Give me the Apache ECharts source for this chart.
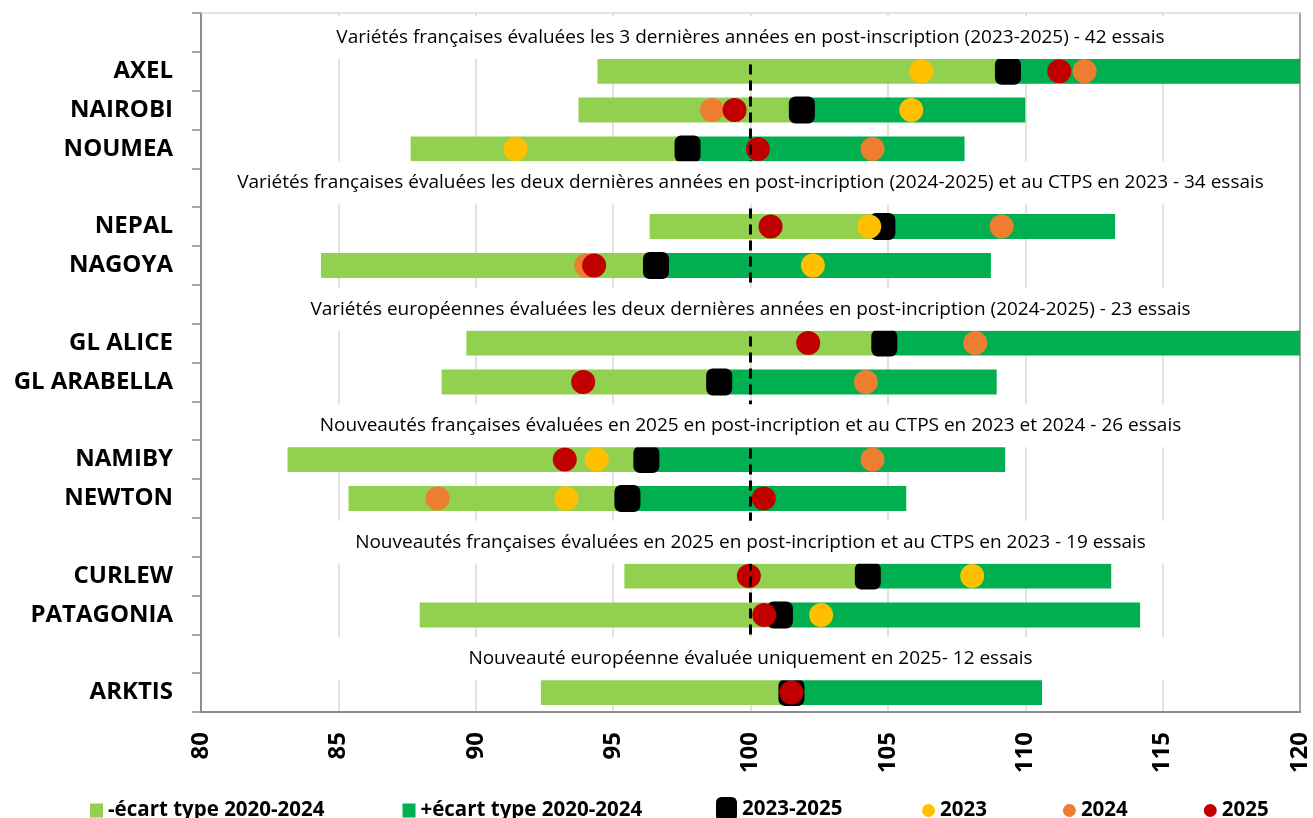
<!DOCTYPE html>
<html>
<head>
<meta charset="utf-8">
<title>Variétés - écart type</title>
<script src="https://cdn.jsdelivr.net/npm/echarts@6/dist/echarts.min.js"></script>
<style>
  html, body { margin: 0; padding: 0; background: #fff; }
  #chart { width: 1313px; height: 818px; }
</style>
</head>
<body>
<div id="chart"></div>
<script>
// headings of each group of varieties (drawn as text rows inside the chart)
var headings = [
  "Variétés françaises évaluées les 3 dernières années en post-inscription (2023-2025) - 42 essais",
  "Variétés françaises évaluées les deux dernières années en post-incription (2024-2025) et au CTPS en 2023 - 34 essais",
  "Variétés européennes évaluées les deux dernières années en post-incription (2024-2025) - 23 essais",
  "Nouveautés françaises évaluées en 2025 en post-incription et au CTPS en 2023 et 2024 - 26 essais",
  "Nouveautés françaises évaluées en 2025 en post-incription et au CTPS en 2023 - 19 essais",
  "Nouveauté européenne évaluée uniquement en 2025- 12 essais"
];
var groups = [
  ["AXEL", "NAIROBI", "NOUMEA"],
  ["NEPAL", "NAGOYA"],
  ["GL ALICE", "GL ARABELLA"],
  ["NAMIBY", "NEWTON"],
  ["CURLEW", "PATAGONIA"],
  ["ARKTIS"]
];

var varieties = ["AXEL", "NAIROBI", "NOUMEA", "NEPAL", "NAGOYA", "GL ALICE", "GL ARABELLA",
  "NAMIBY", "NEWTON", "CURLEW", "PATAGONIA", "ARKTIS"];
var moy2023_2025 = [109.37, 101.87, 97.71, 104.80, 96.56, 104.87, 98.86, 96.21, 95.52, 104.27, 101.07, 101.49];
var ecartType = [14.94, 8.13, 10.08, 8.47, 12.19, 15.21, 10.10, 13.06, 10.15, 8.86, 13.11, 9.12];
var val2023 = [106.22, 105.85, 91.45, 104.32, 102.27, null, null, 94.40, 93.30, 108.07, 102.57, null];
var val2024 = [112.16, 98.60, 104.44, 109.14, 94.02, 108.18, 104.20, 104.44, 88.61, null, null, null];
var val2025 = [111.24, 99.42, 100.27, 100.73, 94.31, 102.10, 93.91, 93.24, 100.48, 99.94, 100.50, 101.49];

var axisMin = 80;
var axisMax = 120;
var axisStep = 5;
var refValue = 100;

var FONT = "'Open Sans', 'DejaVu Sans', sans-serif";

var categories = [];
headings.forEach(function (h, i) {
  categories.push(h);
  groups[i].forEach(function (v) { categories.push(v); });
});

function perRow(fn) {
  return categories.map(function (c) {
    var i = varieties.indexOf(c);
    return i < 0 ? "-" : fn(i);
  });
}

function points(arr) {
  var out = [];
  varieties.forEach(function (v, i) {
    if (arr[i] != null) out.push([arr[i], v]);
  });
  return out;
}

var baseData = perRow(function (i) { return moy2023_2025[i] - ecartType[i]; });
var minusData = perRow(function (i) { return ecartType[i]; });
var plusData = perRow(function (i) { return ecartType[i]; });

var lastHeadingRow = categories.indexOf(headings[headings.length - 1]);

var legendText = { fontFamily: FONT, fontWeight: "bold", fontSize: 20.5, color: "#000" };

var chart = echarts.init(document.getElementById("chart"));

chart.setOption({
  animation: false,
  textStyle: { fontFamily: FONT },
  grid: { left: 201, right: 13, top: 13, bottom: 106 },
  legend: [
    {
      top: 800,
      left: 90,
      padding: 0,
      itemGap: 78,
      itemWidth: 13,
      itemHeight: 14,
      textStyle: legendText,
      data: [
        { name: "-écart type 2020-2024", icon: "rect" },
        { name: "+écart type 2020-2024", icon: "rect" }
      ]
    },
    {
      top: 797,
      left: 716,
      padding: 0,
      itemWidth: 21,
      itemHeight: 24,
      textStyle: legendText,
      data: [{ name: "2023-2025", icon: "roundRect" }]
    },
    {
      top: 800,
      left: 922,
      padding: 0,
      itemGap: 76,
      itemWidth: 13,
      itemHeight: 13,
      textStyle: legendText,
      data: [
        { name: "2023", icon: "circle" },
        { name: "2024", icon: "circle" },
        { name: "2025", icon: "circle" }
      ]
    }
  ],
  xAxis: [
    {
      type: "value",
      min: axisMin,
      max: axisMax,
      interval: axisStep,
      position: "bottom",
      axisLine: { show: true, lineStyle: { color: "#8c8c8c", width: 2 } },
      axisTick: { show: false },
      splitLine: { show: true, lineStyle: { color: "#d9d9d9", width: 1.5 } },
      axisLabel: {
        rotate: 90,
        margin: 20,
        fontFamily: FONT,
        fontWeight: "bold",
        fontSize: 24,
        color: "#000"
      }
    },
    {
      type: "value",
      min: axisMin,
      max: axisMax,
      position: "top",
      axisLine: { show: true, lineStyle: { color: "#d9d9d9", width: 1.5 } },
      axisTick: { show: false },
      axisLabel: { show: false },
      splitLine: { show: false }
    }
  ],
  yAxis: [
    {
      type: "category",
      data: categories,
      inverse: true,
      axisLine: { show: true, lineStyle: { color: "#8c8c8c", width: 2 } },
      axisTick: { show: true, length: 9, lineStyle: { color: "#8c8c8c", width: 1.5 } },
      splitLine: { show: false },
      axisLabel: {
        margin: 28,
        fontFamily: FONT,
        fontWeight: "bold",
        fontSize: 24,
        color: "#000",
        formatter: function (v) {
          return headings.indexOf(v) >= 0 ? "" : v;
        }
      }
    },
    {
      type: "category",
      data: categories,
      inverse: true,
      position: "right",
      axisLine: { show: true, lineStyle: { color: "#a6a6a6", width: 2 } },
      axisTick: { show: false },
      axisLabel: { show: false },
      splitLine: { show: false }
    }
  ],
  series: [
    {
      name: "base",
      type: "bar",
      stack: "ecart",
      barWidth: 25,
      silent: true,
      itemStyle: { color: "rgba(0,0,0,0)" },
      data: baseData
    },
    {
      name: "-écart type 2020-2024",
      type: "bar",
      stack: "ecart",
      barWidth: 25,
      itemStyle: { color: "#92D050" },
      data: minusData
    },
    {
      name: "+écart type 2020-2024",
      type: "bar",
      stack: "ecart",
      barWidth: 25,
      itemStyle: { color: "#00B050" },
      data: plusData
    },
    {
      name: "2023-2025",
      type: "scatter",
      z: 3,
      symbol: "roundRect",
      symbolSize: [26, 27],
      itemStyle: { color: "#000", opacity: 1 },
      data: points(moy2023_2025)
    },
    {
      name: "2023",
      type: "scatter",
      z: 3,
      symbol: "circle",
      symbolSize: 24,
      itemStyle: { color: "#FFC000", opacity: 1 },
      data: points(val2023)
    },
    {
      name: "2024",
      type: "scatter",
      z: 3,
      symbol: "circle",
      symbolSize: 24,
      itemStyle: { color: "#ED7D31", opacity: 1 },
      data: points(val2024)
    },
    {
      name: "2025",
      type: "scatter",
      z: 3,
      symbol: "circle",
      symbolSize: 24,
      itemStyle: { color: "#C00000", opacity: 1 },
      data: points(val2025)
    },
    {
      name: "ref",
      type: "scatter",
      z: 6,
      silent: true,
      data: [],
      markLine: {
        silent: true,
        symbol: ["none", "none"],
        label: { show: false },
        lineStyle: { color: "#000", width: 3, type: [10, 6], opacity: 1 },
        data: [[{ coord: [refValue, 0] }, { coord: [refValue, lastHeadingRow] }]]
      }
    },
    {
      name: "titres",
      type: "scatter",
      z: 10,
      silent: true,
      symbolSize: 0,
      itemStyle: { opacity: 1 },
      data: headings.map(function (h, i) {
        var item = { name: h, value: [refValue, h] };
        // the second text box sits a little higher in the original
        if (i === 1) item.label = { offset: [0, -5] };
        return item;
      }),
      label: {
        show: true,
        position: "inside",
        formatter: function (p) { return p.name; },
        fontFamily: FONT,
        fontSize: 19,
        color: "#000",
        backgroundColor: "#fff",
        width: 1094,
        align: "center",
        lineHeight: 22,
        offset: [0, 5],
        padding: [17, 0, 4, 0]
      }
    }
  ]
});
</script>
</body>
</html>
